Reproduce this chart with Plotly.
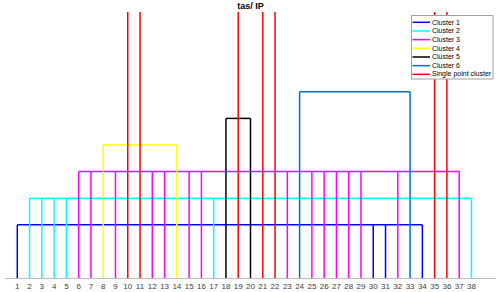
import plotly.graph_objects as go

leaves = list(range(1, 39))
tick_labels = [str(i) for i in leaves]

cluster_names = ["Cluster 1", "Cluster 2", "Cluster 3", "Cluster 4", "Cluster 5", "Cluster 6"]
cluster_leaves = [
    [1, 30, 31, 34],
    [2, 3, 4, 5, 17, 38],
    [6, 7, 9, 12, 13, 15, 16, 23, 25, 26, 27, 28, 29, 32, 37],
    [8, 14],
    [18, 20],
    [24, 33],
]
cluster_heights = [1.0, 1.5, 2.0, 2.5, 3.0, 3.5]
cluster_colors = ["#0000ff", "#00ffff", "#ff00ff", "#ffff00", "#000000", "#0072bd"]

single_name = "Single point cluster"
single_leaves = [10, 11, 19, 21, 22, 35, 36]
single_height = 5.0
single_color = "#ff0000"

W, H = 500, 292
ML, MR, MT, MB = 5, 4, 12, 14
PW, PH = W - ML - MR, H - MT - MB


def px_x(px):
    return (px - ML) / PW


def px_y(py):
    return (H - MB - py) / PH


fig = go.Figure()

for name, lv, h, c in zip(cluster_names, cluster_leaves, cluster_heights, cluster_colors):
    xs, ys = [], []
    xs += [min(lv), max(lv), None]
    ys += [h, h, None]
    for v in lv:
        xs += [v, v, None]
        ys += [0, h, None]
    fig.add_trace(go.Scatter(x=xs, y=ys, mode="lines", name=name,
                             line=dict(color=c, width=1.5), hoverinfo="skip"))

xs, ys = [], []
for v in single_leaves:
    xs += [v, v, None]
    ys += [0, single_height, None]
fig.add_trace(go.Scatter(x=xs, y=ys, mode="lines", name=single_name,
                         line=dict(color=single_color, width=1.5), hoverinfo="skip"))

# custom compact legend (MATLAB style)
legend_names = cluster_names + [single_name]
legend_colors = cluster_colors + [single_color]
shapes = [dict(type="rect", xref="paper", yref="paper", layer="above",
               x0=px_x(411.5), x1=px_x(493), y0=px_y(15.5), y1=px_y(79),
               fillcolor="white", line=dict(color="#a0a0a0", width=1))]
annotations = []
for i, (nm, col) in enumerate(zip(legend_names, legend_colors)):
    py = 22.3 + i * 8.67
    shapes.append(dict(type="line", xref="paper", yref="paper", layer="above",
                       x0=px_x(412.5), x1=px_x(430), y0=px_y(py), y1=px_y(py),
                       line=dict(color=col, width=1.5)))
    annotations.append(dict(text=nm, xref="paper", yref="paper", showarrow=False,
                            x=px_x(431), y=px_y(py), xanchor="left", yanchor="middle",
                            font=dict(size=7, color="#000000"),
                            borderpad=0))

fig.update_layout(
    width=W, height=H,
    margin=dict(l=ML, r=MR, t=MT, b=MB, autoexpand=False),
    paper_bgcolor="white", plot_bgcolor="white",
    font=dict(family="Liberation Sans, Arial, sans-serif", size=8, color="#404040"),
    title=dict(text="<b>tas/ IP</b>", x=0.5, xanchor="center", xref="paper",
               y=1 - 6 / H, yanchor="middle", yref="container",
               font=dict(size=9, color="#000000")),
    xaxis=dict(range=[0, 40], tickmode="array", tickvals=leaves, ticktext=tick_labels,
               tickangle=0, automargin=False,
               showgrid=False, zeroline=False, showline=True, linecolor="#bdbdbd",
               linewidth=1, ticks="", tickfont=dict(size=8, color="#404040")),
    yaxis=dict(range=[0, 5], visible=False, showgrid=False, zeroline=False),
    showlegend=False,
    shapes=shapes,
    annotations=annotations,
)

fig.write_html("out.html", config={"displayModeBar": False},
               post_script="document.body.style.margin='0';document.body.style.overflow='hidden';")
